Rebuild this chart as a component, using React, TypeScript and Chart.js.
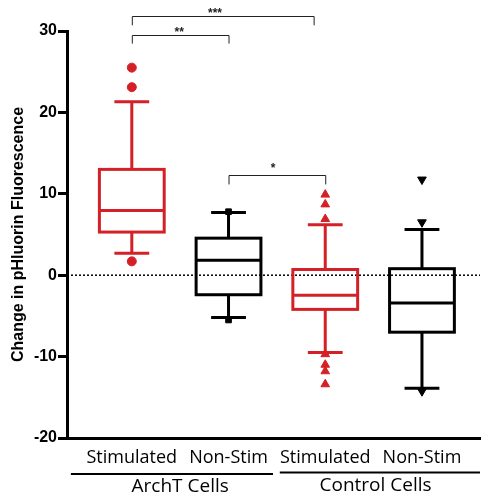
import React, { useEffect, useRef } from "react";
import { Chart, registerables } from "chart.js";

Chart.register(...registerables);

const categories = ["Stimulated", "Non-Stim", "Stimulated", "Non-Stim"];
const groupLabels = ["ArchT Cells", "Control Cells"];
const yTicks = [-20, -10, 0, 10, 20, 30];

const whiskerLow = [2.7, -5.2, -9.5, -13.9];
const q1 = [5.3, -2.4, -4.2, -7.0];
const median = [7.95, 1.85, -2.45, -3.4];
const q3 = [13.0, 4.55, 0.7, 0.8];
const whiskerHigh = [21.3, 7.7, 6.2, 5.6];

const archTStimOutliers = [25.5, 23.1, 1.7];
const archTNonStimOutliers = [7.8, -5.5];
const controlStimOutliers = [9.9, 8.7, 6.9, -9.7, -11.0, -11.8, -13.4];
const controlNonStimOutliers = [11.75, 6.5, -14.25];

// significance brackets
const bracketFrom = [1, 1, 2];
const bracketTo = [2.88, 2, 3];
const bracketY = [31.8, 29.45, 12.3];
const bracketDrop = [30.7, 28.45, 11.15];
const bracketLabels = ["***", "**", "*"];
const bracketLabelX = [1.86, 1.49, 2.46];
const bracketLabelY = [32.5, 30.2, 13.5];

const RED = "#d42027";
const BLACK = "#000000";
const boxColors = [RED, BLACK, RED, BLACK];

const boxPlugin = {
  id: "boxPlugin",
  beforeDatasetsDraw(chart: any) {
    const { ctx, scales } = chart;
    const xs = scales.x;
    const ys = scales.y;
    const area = chart.chartArea;
    ctx.save();
    ctx.strokeStyle = "#000";
    ctx.lineWidth = 1.5;
    ctx.setLineDash([2, 2]);
    ctx.beginPath();
    ctx.moveTo(area.left, ys.getPixelForValue(0));
    ctx.lineTo(area.right, ys.getPixelForValue(0));
    ctx.stroke();
    ctx.setLineDash([]);

    const halfBox = 0.335;
    const halfCap = 0.18;
    for (let i = 0; i < categories.length; i++) {
      const c = i + 1;
      ctx.strokeStyle = boxColors[i];
      ctx.lineWidth = 3;
      const xl = xs.getPixelForValue(c - halfBox);
      const xr = xs.getPixelForValue(c + halfBox);
      const xc = xs.getPixelForValue(c);
      const yq1 = ys.getPixelForValue(q1[i]);
      const yq3 = ys.getPixelForValue(q3[i]);
      const ym = ys.getPixelForValue(median[i]);
      const ylo = ys.getPixelForValue(whiskerLow[i]);
      const yhi = ys.getPixelForValue(whiskerHigh[i]);
      ctx.strokeRect(xl, yq3, xr - xl, yq1 - yq3);
      ctx.beginPath();
      ctx.moveTo(xl, ym);
      ctx.lineTo(xr, ym);
      ctx.moveTo(xc, yq3);
      ctx.lineTo(xc, yhi);
      ctx.moveTo(xc, yq1);
      ctx.lineTo(xc, ylo);
      const cl = xs.getPixelForValue(c - halfCap);
      const cr = xs.getPixelForValue(c + halfCap);
      ctx.moveTo(cl, yhi);
      ctx.lineTo(cr, yhi);
      ctx.moveTo(cl, ylo);
      ctx.lineTo(cr, ylo);
      ctx.stroke();
    }
    ctx.restore();
  },
  afterDraw(chart: any) {
    const { ctx, scales } = chart;
    const xs = scales.x;
    const ys = scales.y;
    ctx.save();
    ctx.strokeStyle = "#222";
    ctx.lineWidth = 1;
    ctx.fillStyle = "#222";
    ctx.font = "bold 12px Arial, 'Liberation Sans', sans-serif";
    ctx.textAlign = "center";
    ctx.textBaseline = "middle";
    for (let i = 0; i < bracketLabels.length; i++) {
      const x1 = xs.getPixelForValue(bracketFrom[i]);
      const x2 = xs.getPixelForValue(bracketTo[i]);
      const y = ys.getPixelForValue(bracketY[i]);
      const yd = ys.getPixelForValue(bracketDrop[i]);
      ctx.beginPath();
      ctx.moveTo(x1 + 0.5, yd);
      ctx.lineTo(x1 + 0.5, Math.round(y) + 0.5);
      ctx.lineTo(x2 + 0.5, Math.round(y) + 0.5);
      ctx.lineTo(x2 + 0.5, yd);
      ctx.stroke();
      ctx.fillText(bracketLabels[i], xs.getPixelForValue(bracketLabelX[i]), ys.getPixelForValue(bracketLabelY[i]) + 3);
    }
    const bottom = chart.chartArea.bottom;
    ctx.strokeStyle = "#000";
    ctx.lineWidth = 2;
    const lineY = bottom + 36;
    ctx.beginPath();
    ctx.moveTo(xs.getPixelForValue(0.37), lineY);
    ctx.lineTo(xs.getPixelForValue(2.46), lineY);
    ctx.moveTo(xs.getPixelForValue(2.53), lineY - 1.5);
    ctx.lineTo(xs.getPixelForValue(4.6), lineY - 1.5);
    ctx.stroke();
    ctx.fillStyle = "#000";
    ctx.font = "19px 'Open Sans', sans-serif";
    ctx.textBaseline = "middle";
    ctx.fillText(groupLabels[0], xs.getPixelForValue(1.5), bottom + 49);
    ctx.fillText(groupLabels[1], xs.getPixelForValue(3.52), bottom + 48);
    ctx.restore();
  },
};

export default function App() {
  const ref = useRef<HTMLCanvasElement | null>(null);
  useEffect(() => {
    if (!ref.current) return;
    const pts = (vals: number[], c: number) => vals.map((v) => ({ x: c, y: v }));
    const chart = new Chart(ref.current, {
      type: "scatter",
      data: {
        datasets: [
          {
            data: pts(archTStimOutliers, 1),
            pointStyle: "circle",
            pointRadius: 4.5,
            backgroundColor: RED,
            borderColor: RED,
          },
          {
            data: pts(archTNonStimOutliers, 2),
            pointStyle: "rect",
            pointRadius: 4,
            backgroundColor: BLACK,
            borderColor: BLACK,
          },
          {
            data: pts(controlStimOutliers, 3),
            pointStyle: "triangle",
            pointRadius: 5,
            backgroundColor: RED,
            borderColor: RED,
          },
          {
            data: pts(controlNonStimOutliers, 4),
            pointStyle: "triangle",
            rotation: 180,
            pointRadius: 5,
            backgroundColor: BLACK,
            borderColor: BLACK,
          },
        ],
      },
      options: {
        responsive: false,
        animation: false,
        events: [],
        layout: { padding: { top: 31, right: 0, left: 0, bottom: 0 } },
        plugins: { legend: { display: false }, tooltip: { enabled: false } },
        scales: {
          x: {
            type: "linear",
            min: 0.33,
            max: 4.6,
            afterBuildTicks: (s: any) => {
              s.ticks = categories.map((_, i) => ({ value: i + 1 }));
            },
            afterFit: (s: any) => {
              s.height = 60;
            },
            grid: { display: false, drawTicks: false },
            border: { display: true, width: 3, color: "#000" },
            ticks: {
              autoSkip: false,
              maxRotation: 0,
              padding: 9,
              color: "#000",
              font: { family: "'Open Sans', sans-serif", size: 18 },
              callback: (v: any) => categories[Math.round(Number(v)) - 1] ?? "",
            },
          },
          y: {
            type: "linear",
            min: -20,
            max: 30,
            afterBuildTicks: (s: any) => {
              s.ticks = yTicks.map((v) => ({ value: v }));
            },
            afterFit: (s: any) => {
              s.width = 67;
            },
            grid: {
              drawOnChartArea: false,
              drawTicks: true,
              tickLength: 9,
              lineWidth: 3,
              color: "#000",
            },
            border: { display: true, width: 3, color: "#000" },
            ticks: {
              padding: 1,
              color: "#000",
              font: { family: "Arial, 'Liberation Sans', sans-serif", size: 16, weight: "bold" },
            },
            title: {
              display: true,
              text: "Change in pHluorin Fluorescence",
              color: "#000",
              padding: { top: 9, bottom: 0 },
              font: { family: "Arial, 'Liberation Sans', sans-serif", size: 16, weight: "bold" },
            },
          },
        },
      },
      plugins: [boxPlugin],
    } as any);
    return () => chart.destroy();
  }, []);
  return (
    <div style={{ position: "absolute", left: 0, top: 0, width: 486, height: 498 }}>
      <canvas ref={ref} width={486} height={498} style={{ display: "block" }} />
    </div>
  );
}
